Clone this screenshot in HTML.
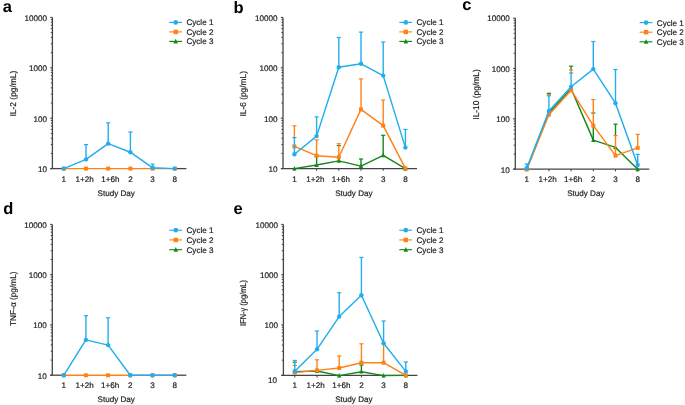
<!DOCTYPE html>
<html><head><meta charset="utf-8"><style>
html,body{margin:0;padding:0;background:#fff;}
svg{display:block;text-rendering:geometricPrecision;will-change:transform;}
.t{font-family:"Liberation Sans",sans-serif;font-size:8.1px;fill:#1e1e1e;stroke:#1e1e1e;stroke-width:0.2px;}
.y{font-family:"Liberation Sans",sans-serif;font-size:8.5px;fill:#1e1e1e;stroke:#1e1e1e;stroke-width:0.2px;}
.L{font-family:"Liberation Sans",sans-serif;font-size:16.5px;font-weight:bold;fill:#000;}
</style></head><body>
<svg width="685" height="405" viewBox="0 0 685 405">
<rect width="685" height="405" fill="#fff"/>
<line x1="52.4" y1="17.4" x2="52.4" y2="168.6" stroke="#444" stroke-width="1.3"/>
<line x1="50.4" y1="168.6" x2="63.8" y2="168.6" stroke="#444" stroke-width="1.3"/>
<line x1="174.8" y1="168.6" x2="186.4" y2="168.6" stroke="#444" stroke-width="1.3"/>
<line x1="50.2" y1="168.6" x2="52.4" y2="168.6" stroke="#444" stroke-width="1.1"/>
<line x1="50.8" y1="153.43" x2="52.4" y2="153.43" stroke="#444" stroke-width="1.0"/>
<line x1="50.8" y1="144.55" x2="52.4" y2="144.55" stroke="#444" stroke-width="1.0"/>
<line x1="50.8" y1="138.26" x2="52.4" y2="138.26" stroke="#444" stroke-width="1.0"/>
<line x1="50.8" y1="133.37" x2="52.4" y2="133.37" stroke="#444" stroke-width="1.0"/>
<line x1="50.8" y1="129.38" x2="52.4" y2="129.38" stroke="#444" stroke-width="1.0"/>
<line x1="50.8" y1="126.01" x2="52.4" y2="126.01" stroke="#444" stroke-width="1.0"/>
<line x1="50.8" y1="123.08" x2="52.4" y2="123.08" stroke="#444" stroke-width="1.0"/>
<line x1="50.8" y1="120.51" x2="52.4" y2="120.51" stroke="#444" stroke-width="1.0"/>
<line x1="50.2" y1="118.2" x2="52.4" y2="118.2" stroke="#444" stroke-width="1.1"/>
<line x1="50.8" y1="103.03" x2="52.4" y2="103.03" stroke="#444" stroke-width="1.0"/>
<line x1="50.8" y1="94.15" x2="52.4" y2="94.15" stroke="#444" stroke-width="1.0"/>
<line x1="50.8" y1="87.86" x2="52.4" y2="87.86" stroke="#444" stroke-width="1.0"/>
<line x1="50.8" y1="82.97" x2="52.4" y2="82.97" stroke="#444" stroke-width="1.0"/>
<line x1="50.8" y1="78.98" x2="52.4" y2="78.98" stroke="#444" stroke-width="1.0"/>
<line x1="50.8" y1="75.61" x2="52.4" y2="75.61" stroke="#444" stroke-width="1.0"/>
<line x1="50.8" y1="72.68" x2="52.4" y2="72.68" stroke="#444" stroke-width="1.0"/>
<line x1="50.8" y1="70.11" x2="52.4" y2="70.11" stroke="#444" stroke-width="1.0"/>
<line x1="50.2" y1="67.8" x2="52.4" y2="67.8" stroke="#444" stroke-width="1.1"/>
<line x1="50.8" y1="52.63" x2="52.4" y2="52.63" stroke="#444" stroke-width="1.0"/>
<line x1="50.8" y1="43.75" x2="52.4" y2="43.75" stroke="#444" stroke-width="1.0"/>
<line x1="50.8" y1="37.46" x2="52.4" y2="37.46" stroke="#444" stroke-width="1.0"/>
<line x1="50.8" y1="32.57" x2="52.4" y2="32.57" stroke="#444" stroke-width="1.0"/>
<line x1="50.8" y1="28.58" x2="52.4" y2="28.58" stroke="#444" stroke-width="1.0"/>
<line x1="50.8" y1="25.21" x2="52.4" y2="25.21" stroke="#444" stroke-width="1.0"/>
<line x1="50.8" y1="22.28" x2="52.4" y2="22.28" stroke="#444" stroke-width="1.0"/>
<line x1="50.8" y1="19.71" x2="52.4" y2="19.71" stroke="#444" stroke-width="1.0"/>
<line x1="50.2" y1="17.4" x2="52.4" y2="17.4" stroke="#444" stroke-width="1.1"/>
<text x="46.9" y="171.9" text-anchor="end" class="t">10</text>
<text x="46.9" y="121.5" text-anchor="end" class="t">100</text>
<text x="46.9" y="71.1" text-anchor="end" class="t">1000</text>
<text x="46.9" y="20.7" text-anchor="end" class="t">10000</text>
<text x="63.8" y="181.5" text-anchor="middle" class="t">1</text>
<text x="84.7" y="181.5" text-anchor="middle" class="t">1+2h</text>
<text x="110.3" y="181.5" text-anchor="middle" class="t">1+6h</text>
<text x="130.4" y="181.5" text-anchor="middle" class="t">2</text>
<text x="152.6" y="181.5" text-anchor="middle" class="t">3</text>
<text x="174.8" y="181.5" text-anchor="middle" class="t">8</text>
<text x="116.2" y="195.5" text-anchor="middle" class="t">Study Day</text>
<text transform="translate(15.6,93.6) rotate(-90)" text-anchor="middle" class="y" textLength="45.8" lengthAdjust="spacingAndGlyphs">IL-2 (pg/mL)</text>
<text x="2.7" y="11.7" class="L">a</text>
<polyline points="63.8,168.6 86,168.6 108.2,168.6 130.4,168.6 152.6,168.6 174.8,168.6" fill="none" stroke="#ff8216" stroke-width="1.45" stroke-linejoin="round"/>
<rect x="61.8" y="166.6" width="4" height="4" fill="#ff8216"/>
<rect x="84" y="166.6" width="4" height="4" fill="#ff8216"/>
<rect x="106.2" y="166.6" width="4" height="4" fill="#ff8216"/>
<rect x="128.4" y="166.6" width="4" height="4" fill="#ff8216"/>
<rect x="150.6" y="166.6" width="4" height="4" fill="#ff8216"/>
<rect x="172.8" y="166.6" width="4" height="4" fill="#ff8216"/>
<line x1="86" y1="144.6" x2="86" y2="159.4" stroke="#22aeee" stroke-width="1.4"/>
<line x1="83.9" y1="144.6" x2="88.1" y2="144.6" stroke="#22aeee" stroke-width="1.2"/>
<line x1="108.2" y1="122.8" x2="108.2" y2="143.6" stroke="#22aeee" stroke-width="1.4"/>
<line x1="106.1" y1="122.8" x2="110.3" y2="122.8" stroke="#22aeee" stroke-width="1.2"/>
<line x1="130.4" y1="132" x2="130.4" y2="152.2" stroke="#22aeee" stroke-width="1.4"/>
<line x1="128.3" y1="132" x2="132.5" y2="132" stroke="#22aeee" stroke-width="1.2"/>
<line x1="152.6" y1="164.2" x2="152.6" y2="167.8" stroke="#22aeee" stroke-width="1.4"/>
<line x1="150.5" y1="164.2" x2="154.7" y2="164.2" stroke="#22aeee" stroke-width="1.2"/>
<polyline points="63.8,168.6 86,159.4 108.2,143.6 130.4,152.2 152.6,167.8 174.8,168.6" fill="none" stroke="#22aeee" stroke-width="1.45" stroke-linejoin="round"/>
<circle cx="63.8" cy="168.6" r="2.2" fill="#22aeee"/>
<circle cx="86" cy="159.4" r="2.2" fill="#22aeee"/>
<circle cx="108.2" cy="143.6" r="2.2" fill="#22aeee"/>
<circle cx="130.4" cy="152.2" r="2.2" fill="#22aeee"/>
<circle cx="152.6" cy="167.8" r="2.2" fill="#22aeee"/>
<circle cx="174.8" cy="168.6" r="2.2" fill="#22aeee"/>
<line x1="169.2" y1="22.4" x2="182" y2="22.4" stroke="#22aeee" stroke-width="1.15"/>
<circle cx="175.7" cy="22.4" r="2.35" fill="#22aeee"/>
<text x="186.4" y="25.3" class="t">Cycle 1</text>
<line x1="169.2" y1="31.9" x2="182" y2="31.9" stroke="#ff8216" stroke-width="1.15"/>
<rect x="173.5" y="29.7" width="4.4" height="4.4" fill="#ff8216"/>
<text x="186.4" y="34.8" class="t">Cycle 2</text>
<line x1="169.2" y1="41.4" x2="182" y2="41.4" stroke="#15881c" stroke-width="1.15"/>
<polygon points="175.7,38.77 173.39,43.39 178.01,43.39" fill="#15881c"/>
<text x="186.4" y="44.3" class="t">Cycle 3</text>
<line x1="283" y1="17.4" x2="283" y2="168.6" stroke="#444" stroke-width="1.3"/>
<line x1="281" y1="168.6" x2="417" y2="168.6" stroke="#444" stroke-width="1.3"/>
<line x1="280.8" y1="168.6" x2="283" y2="168.6" stroke="#444" stroke-width="1.1"/>
<line x1="281.4" y1="153.43" x2="283" y2="153.43" stroke="#444" stroke-width="1.0"/>
<line x1="281.4" y1="144.55" x2="283" y2="144.55" stroke="#444" stroke-width="1.0"/>
<line x1="281.4" y1="138.26" x2="283" y2="138.26" stroke="#444" stroke-width="1.0"/>
<line x1="281.4" y1="133.37" x2="283" y2="133.37" stroke="#444" stroke-width="1.0"/>
<line x1="281.4" y1="129.38" x2="283" y2="129.38" stroke="#444" stroke-width="1.0"/>
<line x1="281.4" y1="126.01" x2="283" y2="126.01" stroke="#444" stroke-width="1.0"/>
<line x1="281.4" y1="123.08" x2="283" y2="123.08" stroke="#444" stroke-width="1.0"/>
<line x1="281.4" y1="120.51" x2="283" y2="120.51" stroke="#444" stroke-width="1.0"/>
<line x1="280.8" y1="118.2" x2="283" y2="118.2" stroke="#444" stroke-width="1.1"/>
<line x1="281.4" y1="103.03" x2="283" y2="103.03" stroke="#444" stroke-width="1.0"/>
<line x1="281.4" y1="94.15" x2="283" y2="94.15" stroke="#444" stroke-width="1.0"/>
<line x1="281.4" y1="87.86" x2="283" y2="87.86" stroke="#444" stroke-width="1.0"/>
<line x1="281.4" y1="82.97" x2="283" y2="82.97" stroke="#444" stroke-width="1.0"/>
<line x1="281.4" y1="78.98" x2="283" y2="78.98" stroke="#444" stroke-width="1.0"/>
<line x1="281.4" y1="75.61" x2="283" y2="75.61" stroke="#444" stroke-width="1.0"/>
<line x1="281.4" y1="72.68" x2="283" y2="72.68" stroke="#444" stroke-width="1.0"/>
<line x1="281.4" y1="70.11" x2="283" y2="70.11" stroke="#444" stroke-width="1.0"/>
<line x1="280.8" y1="67.8" x2="283" y2="67.8" stroke="#444" stroke-width="1.1"/>
<line x1="281.4" y1="52.63" x2="283" y2="52.63" stroke="#444" stroke-width="1.0"/>
<line x1="281.4" y1="43.75" x2="283" y2="43.75" stroke="#444" stroke-width="1.0"/>
<line x1="281.4" y1="37.46" x2="283" y2="37.46" stroke="#444" stroke-width="1.0"/>
<line x1="281.4" y1="32.57" x2="283" y2="32.57" stroke="#444" stroke-width="1.0"/>
<line x1="281.4" y1="28.58" x2="283" y2="28.58" stroke="#444" stroke-width="1.0"/>
<line x1="281.4" y1="25.21" x2="283" y2="25.21" stroke="#444" stroke-width="1.0"/>
<line x1="281.4" y1="22.28" x2="283" y2="22.28" stroke="#444" stroke-width="1.0"/>
<line x1="281.4" y1="19.71" x2="283" y2="19.71" stroke="#444" stroke-width="1.0"/>
<line x1="280.8" y1="17.4" x2="283" y2="17.4" stroke="#444" stroke-width="1.1"/>
<line x1="294.4" y1="168.6" x2="294.4" y2="170.8" stroke="#444" stroke-width="1"/>
<line x1="316.6" y1="168.6" x2="316.6" y2="170.8" stroke="#444" stroke-width="1"/>
<line x1="338.8" y1="168.6" x2="338.8" y2="170.8" stroke="#444" stroke-width="1"/>
<line x1="361" y1="168.6" x2="361" y2="170.8" stroke="#444" stroke-width="1"/>
<line x1="383.2" y1="168.6" x2="383.2" y2="170.8" stroke="#444" stroke-width="1"/>
<line x1="405.4" y1="168.6" x2="405.4" y2="170.8" stroke="#444" stroke-width="1"/>
<text x="277.5" y="171.9" text-anchor="end" class="t">10</text>
<text x="277.5" y="121.5" text-anchor="end" class="t">100</text>
<text x="277.5" y="71.1" text-anchor="end" class="t">1000</text>
<text x="277.5" y="20.7" text-anchor="end" class="t">10000</text>
<text x="294.4" y="181.5" text-anchor="middle" class="t">1</text>
<text x="315.3" y="181.5" text-anchor="middle" class="t">1+2h</text>
<text x="340.9" y="181.5" text-anchor="middle" class="t">1+6h</text>
<text x="361" y="181.5" text-anchor="middle" class="t">2</text>
<text x="383.2" y="181.5" text-anchor="middle" class="t">3</text>
<text x="405.4" y="181.5" text-anchor="middle" class="t">8</text>
<text x="353.9" y="195.5" text-anchor="middle" class="t">Study Day</text>
<text transform="translate(245.6,93.8) rotate(-90)" text-anchor="middle" class="y" textLength="45.4" lengthAdjust="spacingAndGlyphs">IL-6 (pg/mL)</text>
<text x="233.6" y="13.4" class="L">b</text>
<line x1="316.6" y1="156.5" x2="316.6" y2="165" stroke="#15881c" stroke-width="1.4"/>
<line x1="314.5" y1="156.5" x2="318.7" y2="156.5" stroke="#15881c" stroke-width="1.2"/>
<line x1="338.8" y1="157.2" x2="338.8" y2="160.9" stroke="#15881c" stroke-width="1.4"/>
<line x1="336.7" y1="145.6" x2="340.9" y2="145.6" stroke="#15881c" stroke-width="1.2"/>
<line x1="361" y1="159" x2="361" y2="166.1" stroke="#15881c" stroke-width="1.4"/>
<line x1="358.9" y1="159" x2="363.1" y2="159" stroke="#15881c" stroke-width="1.2"/>
<line x1="383.2" y1="135.3" x2="383.2" y2="155.3" stroke="#15881c" stroke-width="1.4"/>
<line x1="381.1" y1="135.3" x2="385.3" y2="135.3" stroke="#15881c" stroke-width="1.2"/>
<polyline points="294.4,168.6 316.6,165 338.8,160.9 361,166.1 383.2,155.3 405.4,168.6" fill="none" stroke="#15881c" stroke-width="1.45" stroke-linejoin="round"/>
<polygon points="294.4,166.1 292.2,170.5 296.6,170.5" fill="#15881c"/>
<polygon points="316.6,162.5 314.4,166.9 318.8,166.9" fill="#15881c"/>
<polygon points="338.8,158.4 336.6,162.8 341,162.8" fill="#15881c"/>
<polygon points="361,163.6 358.8,168 363.2,168" fill="#15881c"/>
<polygon points="383.2,152.8 381,157.2 385.4,157.2" fill="#15881c"/>
<polygon points="405.4,166.1 403.2,170.5 407.6,170.5" fill="#15881c"/>
<line x1="294.4" y1="125.8" x2="294.4" y2="137.6" stroke="#ff8216" stroke-width="1.4"/>
<line x1="292.3" y1="125.8" x2="296.5" y2="125.8" stroke="#ff8216" stroke-width="1.2"/>
<line x1="316.6" y1="139.9" x2="316.6" y2="155.7" stroke="#ff8216" stroke-width="1.4"/>
<line x1="314.5" y1="139.9" x2="318.7" y2="139.9" stroke="#ff8216" stroke-width="1.2"/>
<line x1="338.8" y1="143.7" x2="338.8" y2="157.2" stroke="#ff8216" stroke-width="1.4"/>
<line x1="336.7" y1="143.7" x2="340.9" y2="143.7" stroke="#ff8216" stroke-width="1.2"/>
<line x1="361" y1="78.9" x2="361" y2="109.4" stroke="#ff8216" stroke-width="1.4"/>
<line x1="358.9" y1="78.9" x2="363.1" y2="78.9" stroke="#ff8216" stroke-width="1.2"/>
<line x1="383.2" y1="100" x2="383.2" y2="125.7" stroke="#ff8216" stroke-width="1.4"/>
<line x1="381.1" y1="100" x2="385.3" y2="100" stroke="#ff8216" stroke-width="1.2"/>
<polyline points="294.4,146.4 316.6,155.7 338.8,157.2 361,109.4 383.2,125.7 405.4,168.4" fill="none" stroke="#ff8216" stroke-width="1.45" stroke-linejoin="round"/>
<rect x="292.4" y="144.4" width="4" height="4" fill="#ff8216"/>
<rect x="314.6" y="153.7" width="4" height="4" fill="#ff8216"/>
<rect x="336.8" y="155.2" width="4" height="4" fill="#ff8216"/>
<rect x="359" y="107.4" width="4" height="4" fill="#ff8216"/>
<rect x="381.2" y="123.7" width="4" height="4" fill="#ff8216"/>
<rect x="403.4" y="166.4" width="4" height="4" fill="#ff8216"/>
<line x1="294.4" y1="137.6" x2="294.4" y2="154.3" stroke="#22aeee" stroke-width="1.4"/>
<line x1="292.3" y1="137.6" x2="296.5" y2="137.6" stroke="#22aeee" stroke-width="1.2"/>
<line x1="316.6" y1="116.9" x2="316.6" y2="136.1" stroke="#22aeee" stroke-width="1.4"/>
<line x1="314.5" y1="116.9" x2="318.7" y2="116.9" stroke="#22aeee" stroke-width="1.2"/>
<line x1="338.8" y1="37.5" x2="338.8" y2="67.2" stroke="#22aeee" stroke-width="1.4"/>
<line x1="336.7" y1="37.5" x2="340.9" y2="37.5" stroke="#22aeee" stroke-width="1.2"/>
<line x1="361" y1="32.1" x2="361" y2="63.8" stroke="#22aeee" stroke-width="1.4"/>
<line x1="358.9" y1="32.1" x2="363.1" y2="32.1" stroke="#22aeee" stroke-width="1.2"/>
<line x1="383.2" y1="42" x2="383.2" y2="75.6" stroke="#22aeee" stroke-width="1.4"/>
<line x1="381.1" y1="42" x2="385.3" y2="42" stroke="#22aeee" stroke-width="1.2"/>
<line x1="405.4" y1="129.4" x2="405.4" y2="147.6" stroke="#22aeee" stroke-width="1.4"/>
<line x1="403.3" y1="129.4" x2="407.5" y2="129.4" stroke="#22aeee" stroke-width="1.2"/>
<polyline points="294.4,154.3 316.6,136.1 338.8,67.2 361,63.8 383.2,75.6 405.4,147.6" fill="none" stroke="#22aeee" stroke-width="1.45" stroke-linejoin="round"/>
<circle cx="294.4" cy="154.3" r="2.2" fill="#22aeee"/>
<circle cx="316.6" cy="136.1" r="2.2" fill="#22aeee"/>
<circle cx="338.8" cy="67.2" r="2.2" fill="#22aeee"/>
<circle cx="361" cy="63.8" r="2.2" fill="#22aeee"/>
<circle cx="383.2" cy="75.6" r="2.2" fill="#22aeee"/>
<circle cx="405.4" cy="147.6" r="2.2" fill="#22aeee"/>
<line x1="399.3" y1="22.4" x2="412.1" y2="22.4" stroke="#22aeee" stroke-width="1.15"/>
<circle cx="405.8" cy="22.4" r="2.35" fill="#22aeee"/>
<text x="416.5" y="25.3" class="t">Cycle 1</text>
<line x1="399.3" y1="31.9" x2="412.1" y2="31.9" stroke="#ff8216" stroke-width="1.15"/>
<rect x="403.6" y="29.7" width="4.4" height="4.4" fill="#ff8216"/>
<text x="416.5" y="34.8" class="t">Cycle 2</text>
<line x1="399.3" y1="41.4" x2="412.1" y2="41.4" stroke="#15881c" stroke-width="1.15"/>
<polygon points="405.8,38.77 403.49,43.39 408.11,43.39" fill="#15881c"/>
<text x="416.5" y="44.3" class="t">Cycle 3</text>
<line x1="515.3" y1="18.1" x2="515.3" y2="169.2" stroke="#444" stroke-width="1.3"/>
<line x1="513.3" y1="169.2" x2="649.3" y2="169.2" stroke="#444" stroke-width="1.3"/>
<line x1="513.1" y1="169.2" x2="515.3" y2="169.2" stroke="#444" stroke-width="1.1"/>
<line x1="513.7" y1="154.04" x2="515.3" y2="154.04" stroke="#444" stroke-width="1.0"/>
<line x1="513.7" y1="145.17" x2="515.3" y2="145.17" stroke="#444" stroke-width="1.0"/>
<line x1="513.7" y1="138.88" x2="515.3" y2="138.88" stroke="#444" stroke-width="1.0"/>
<line x1="513.7" y1="134" x2="515.3" y2="134" stroke="#444" stroke-width="1.0"/>
<line x1="513.7" y1="130.01" x2="515.3" y2="130.01" stroke="#444" stroke-width="1.0"/>
<line x1="513.7" y1="126.64" x2="515.3" y2="126.64" stroke="#444" stroke-width="1.0"/>
<line x1="513.7" y1="123.71" x2="515.3" y2="123.71" stroke="#444" stroke-width="1.0"/>
<line x1="513.7" y1="121.14" x2="515.3" y2="121.14" stroke="#444" stroke-width="1.0"/>
<line x1="513.1" y1="118.83" x2="515.3" y2="118.83" stroke="#444" stroke-width="1.1"/>
<line x1="513.7" y1="103.67" x2="515.3" y2="103.67" stroke="#444" stroke-width="1.0"/>
<line x1="513.7" y1="94.8" x2="515.3" y2="94.8" stroke="#444" stroke-width="1.0"/>
<line x1="513.7" y1="88.51" x2="515.3" y2="88.51" stroke="#444" stroke-width="1.0"/>
<line x1="513.7" y1="83.63" x2="515.3" y2="83.63" stroke="#444" stroke-width="1.0"/>
<line x1="513.7" y1="79.64" x2="515.3" y2="79.64" stroke="#444" stroke-width="1.0"/>
<line x1="513.7" y1="76.27" x2="515.3" y2="76.27" stroke="#444" stroke-width="1.0"/>
<line x1="513.7" y1="73.35" x2="515.3" y2="73.35" stroke="#444" stroke-width="1.0"/>
<line x1="513.7" y1="70.77" x2="515.3" y2="70.77" stroke="#444" stroke-width="1.0"/>
<line x1="513.1" y1="68.47" x2="515.3" y2="68.47" stroke="#444" stroke-width="1.1"/>
<line x1="513.7" y1="53.3" x2="515.3" y2="53.3" stroke="#444" stroke-width="1.0"/>
<line x1="513.7" y1="44.44" x2="515.3" y2="44.44" stroke="#444" stroke-width="1.0"/>
<line x1="513.7" y1="38.14" x2="515.3" y2="38.14" stroke="#444" stroke-width="1.0"/>
<line x1="513.7" y1="33.26" x2="515.3" y2="33.26" stroke="#444" stroke-width="1.0"/>
<line x1="513.7" y1="29.27" x2="515.3" y2="29.27" stroke="#444" stroke-width="1.0"/>
<line x1="513.7" y1="25.9" x2="515.3" y2="25.9" stroke="#444" stroke-width="1.0"/>
<line x1="513.7" y1="22.98" x2="515.3" y2="22.98" stroke="#444" stroke-width="1.0"/>
<line x1="513.7" y1="20.4" x2="515.3" y2="20.4" stroke="#444" stroke-width="1.0"/>
<line x1="513.1" y1="18.1" x2="515.3" y2="18.1" stroke="#444" stroke-width="1.1"/>
<line x1="526.7" y1="169.2" x2="526.7" y2="171.4" stroke="#444" stroke-width="1"/>
<line x1="548.9" y1="169.2" x2="548.9" y2="171.4" stroke="#444" stroke-width="1"/>
<line x1="571.1" y1="169.2" x2="571.1" y2="171.4" stroke="#444" stroke-width="1"/>
<line x1="593.3" y1="169.2" x2="593.3" y2="171.4" stroke="#444" stroke-width="1"/>
<line x1="615.5" y1="169.2" x2="615.5" y2="171.4" stroke="#444" stroke-width="1"/>
<line x1="637.7" y1="169.2" x2="637.7" y2="171.4" stroke="#444" stroke-width="1"/>
<text x="509.8" y="172.5" text-anchor="end" class="t">10</text>
<text x="509.8" y="122.13" text-anchor="end" class="t">100</text>
<text x="509.8" y="71.77" text-anchor="end" class="t">1000</text>
<text x="509.8" y="21.4" text-anchor="end" class="t">10000</text>
<text x="526.7" y="182.1" text-anchor="middle" class="t">1</text>
<text x="547.6" y="182.1" text-anchor="middle" class="t">1+2h</text>
<text x="573.2" y="182.1" text-anchor="middle" class="t">1+6h</text>
<text x="593.3" y="182.1" text-anchor="middle" class="t">2</text>
<text x="615.5" y="182.1" text-anchor="middle" class="t">3</text>
<text x="637.7" y="182.1" text-anchor="middle" class="t">8</text>
<text x="585.8" y="196.1" text-anchor="middle" class="t">Study Day</text>
<text transform="translate(479,94.45) rotate(-90)" text-anchor="middle" class="y" textLength="50.5" lengthAdjust="spacingAndGlyphs">IL-10 (pg/mL)</text>
<text x="462.2" y="10.3" class="L">c</text>
<line x1="548.9" y1="93.3" x2="548.9" y2="94.6" stroke="#15881c" stroke-width="1.4"/>
<line x1="546.8" y1="93.3" x2="551" y2="93.3" stroke="#15881c" stroke-width="1.2"/>
<line x1="571.1" y1="66.2" x2="571.1" y2="70.1" stroke="#15881c" stroke-width="1.4"/>
<line x1="569" y1="66.2" x2="573.2" y2="66.2" stroke="#15881c" stroke-width="1.2"/>
<line x1="593.3" y1="125.6" x2="593.3" y2="140.1" stroke="#15881c" stroke-width="1.4"/>
<line x1="591.2" y1="113" x2="595.4" y2="113" stroke="#15881c" stroke-width="1.2"/>
<line x1="615.5" y1="124.2" x2="615.5" y2="135.6" stroke="#15881c" stroke-width="1.4"/>
<line x1="613.4" y1="124.2" x2="617.6" y2="124.2" stroke="#15881c" stroke-width="1.2"/>
<polyline points="526.7,169.2 548.9,112.8 571.1,88.8 593.3,140.1 615.5,147.4 637.7,169.3" fill="none" stroke="#15881c" stroke-width="1.45" stroke-linejoin="round"/>
<polygon points="526.7,166.7 524.5,171.1 528.9,171.1" fill="#15881c"/>
<polygon points="548.9,110.3 546.7,114.7 551.1,114.7" fill="#15881c"/>
<polygon points="571.1,86.3 568.9,90.7 573.3,90.7" fill="#15881c"/>
<polygon points="593.3,137.6 591.1,142 595.5,142" fill="#15881c"/>
<polygon points="615.5,144.9 613.3,149.3 617.7,149.3" fill="#15881c"/>
<polygon points="637.7,166.8 635.5,171.2 639.9,171.2" fill="#15881c"/>
<line x1="548.9" y1="94.6" x2="548.9" y2="95.8" stroke="#ff8216" stroke-width="1.4"/>
<line x1="548.9" y1="110.9" x2="548.9" y2="114.7" stroke="#ff8216" stroke-width="1.4"/>
<line x1="546.8" y1="94.6" x2="551" y2="94.6" stroke="#ff8216" stroke-width="1.2"/>
<line x1="571.1" y1="70.1" x2="571.1" y2="73" stroke="#ff8216" stroke-width="1.4"/>
<line x1="571.1" y1="86.7" x2="571.1" y2="90.2" stroke="#ff8216" stroke-width="1.4"/>
<line x1="569" y1="70.1" x2="573.2" y2="70.1" stroke="#ff8216" stroke-width="1.2"/>
<line x1="593.3" y1="99.6" x2="593.3" y2="125.6" stroke="#ff8216" stroke-width="1.4"/>
<line x1="591.2" y1="99.6" x2="595.4" y2="99.6" stroke="#ff8216" stroke-width="1.2"/>
<line x1="615.5" y1="135.6" x2="615.5" y2="155.6" stroke="#ff8216" stroke-width="1.4"/>
<line x1="613.4" y1="135.6" x2="617.6" y2="135.6" stroke="#ff8216" stroke-width="1.2"/>
<line x1="637.7" y1="134.4" x2="637.7" y2="147.9" stroke="#ff8216" stroke-width="1.4"/>
<line x1="635.6" y1="134.4" x2="639.8" y2="134.4" stroke="#ff8216" stroke-width="1.2"/>
<polyline points="526.7,169.4 548.9,114.7 571.1,90.2 593.3,125.6 615.5,155.6 637.7,147.9" fill="none" stroke="#ff8216" stroke-width="1.45" stroke-linejoin="round"/>
<rect x="524.7" y="167.4" width="4" height="4" fill="#ff8216"/>
<rect x="546.9" y="112.7" width="4" height="4" fill="#ff8216"/>
<rect x="569.1" y="88.2" width="4" height="4" fill="#ff8216"/>
<rect x="591.3" y="123.6" width="4" height="4" fill="#ff8216"/>
<rect x="613.5" y="153.6" width="4" height="4" fill="#ff8216"/>
<rect x="635.7" y="145.9" width="4" height="4" fill="#ff8216"/>
<line x1="526.7" y1="164" x2="526.7" y2="168.3" stroke="#22aeee" stroke-width="1.4"/>
<line x1="524.6" y1="164" x2="528.8" y2="164" stroke="#22aeee" stroke-width="1.2"/>
<line x1="548.9" y1="95.8" x2="548.9" y2="110.9" stroke="#22aeee" stroke-width="1.4"/>
<line x1="546.8" y1="95.8" x2="551" y2="95.8" stroke="#22aeee" stroke-width="1.2"/>
<line x1="571.1" y1="73" x2="571.1" y2="86.7" stroke="#22aeee" stroke-width="1.4"/>
<line x1="569" y1="73" x2="573.2" y2="73" stroke="#22aeee" stroke-width="1.2"/>
<line x1="593.3" y1="41.5" x2="593.3" y2="69.1" stroke="#22aeee" stroke-width="1.4"/>
<line x1="591.2" y1="41.5" x2="595.4" y2="41.5" stroke="#22aeee" stroke-width="1.2"/>
<line x1="615.5" y1="69.5" x2="615.5" y2="103.2" stroke="#22aeee" stroke-width="1.4"/>
<line x1="613.4" y1="69.5" x2="617.6" y2="69.5" stroke="#22aeee" stroke-width="1.2"/>
<line x1="637.7" y1="154.4" x2="637.7" y2="164.9" stroke="#22aeee" stroke-width="1.4"/>
<line x1="635.6" y1="154.4" x2="639.8" y2="154.4" stroke="#22aeee" stroke-width="1.2"/>
<polyline points="526.7,168.3 548.9,110.9 571.1,86.7 593.3,69.1 615.5,103.2 637.7,164.9" fill="none" stroke="#22aeee" stroke-width="1.45" stroke-linejoin="round"/>
<circle cx="526.7" cy="168.3" r="2.2" fill="#22aeee"/>
<circle cx="548.9" cy="110.9" r="2.2" fill="#22aeee"/>
<circle cx="571.1" cy="86.7" r="2.2" fill="#22aeee"/>
<circle cx="593.3" cy="69.1" r="2.2" fill="#22aeee"/>
<circle cx="615.5" cy="103.2" r="2.2" fill="#22aeee"/>
<circle cx="637.7" cy="164.9" r="2.2" fill="#22aeee"/>
<line x1="639.6" y1="22.6" x2="652.4" y2="22.6" stroke="#22aeee" stroke-width="1.15"/>
<circle cx="646.1" cy="22.6" r="2.35" fill="#22aeee"/>
<text x="656.8" y="25.5" class="t">Cycle 1</text>
<line x1="639.6" y1="32.2" x2="652.4" y2="32.2" stroke="#ff8216" stroke-width="1.15"/>
<rect x="643.9" y="30" width="4.4" height="4.4" fill="#ff8216"/>
<text x="656.8" y="35.1" class="t">Cycle 2</text>
<line x1="639.6" y1="41.8" x2="652.4" y2="41.8" stroke="#15881c" stroke-width="1.15"/>
<polygon points="646.1,39.17 643.79,43.79 648.41,43.79" fill="#15881c"/>
<text x="656.8" y="44.7" class="t">Cycle 3</text>
<line x1="52.3" y1="224.4" x2="52.3" y2="375.2" stroke="#444" stroke-width="1.3"/>
<line x1="50.3" y1="375.2" x2="63.7" y2="375.2" stroke="#444" stroke-width="1.3"/>
<line x1="174.7" y1="375.2" x2="186.3" y2="375.2" stroke="#444" stroke-width="1.3"/>
<line x1="50.1" y1="375.2" x2="52.3" y2="375.2" stroke="#444" stroke-width="1.1"/>
<line x1="50.7" y1="360.07" x2="52.3" y2="360.07" stroke="#444" stroke-width="1.0"/>
<line x1="50.7" y1="351.22" x2="52.3" y2="351.22" stroke="#444" stroke-width="1.0"/>
<line x1="50.7" y1="344.94" x2="52.3" y2="344.94" stroke="#444" stroke-width="1.0"/>
<line x1="50.7" y1="340.07" x2="52.3" y2="340.07" stroke="#444" stroke-width="1.0"/>
<line x1="50.7" y1="336.08" x2="52.3" y2="336.08" stroke="#444" stroke-width="1.0"/>
<line x1="50.7" y1="332.72" x2="52.3" y2="332.72" stroke="#444" stroke-width="1.0"/>
<line x1="50.7" y1="329.8" x2="52.3" y2="329.8" stroke="#444" stroke-width="1.0"/>
<line x1="50.7" y1="327.23" x2="52.3" y2="327.23" stroke="#444" stroke-width="1.0"/>
<line x1="50.1" y1="324.93" x2="52.3" y2="324.93" stroke="#444" stroke-width="1.1"/>
<line x1="50.7" y1="309.8" x2="52.3" y2="309.8" stroke="#444" stroke-width="1.0"/>
<line x1="50.7" y1="300.95" x2="52.3" y2="300.95" stroke="#444" stroke-width="1.0"/>
<line x1="50.7" y1="294.67" x2="52.3" y2="294.67" stroke="#444" stroke-width="1.0"/>
<line x1="50.7" y1="289.8" x2="52.3" y2="289.8" stroke="#444" stroke-width="1.0"/>
<line x1="50.7" y1="285.82" x2="52.3" y2="285.82" stroke="#444" stroke-width="1.0"/>
<line x1="50.7" y1="282.45" x2="52.3" y2="282.45" stroke="#444" stroke-width="1.0"/>
<line x1="50.7" y1="279.54" x2="52.3" y2="279.54" stroke="#444" stroke-width="1.0"/>
<line x1="50.7" y1="276.97" x2="52.3" y2="276.97" stroke="#444" stroke-width="1.0"/>
<line x1="50.1" y1="274.67" x2="52.3" y2="274.67" stroke="#444" stroke-width="1.1"/>
<line x1="50.7" y1="259.53" x2="52.3" y2="259.53" stroke="#444" stroke-width="1.0"/>
<line x1="50.7" y1="250.68" x2="52.3" y2="250.68" stroke="#444" stroke-width="1.0"/>
<line x1="50.7" y1="244.4" x2="52.3" y2="244.4" stroke="#444" stroke-width="1.0"/>
<line x1="50.7" y1="239.53" x2="52.3" y2="239.53" stroke="#444" stroke-width="1.0"/>
<line x1="50.7" y1="235.55" x2="52.3" y2="235.55" stroke="#444" stroke-width="1.0"/>
<line x1="50.7" y1="232.19" x2="52.3" y2="232.19" stroke="#444" stroke-width="1.0"/>
<line x1="50.7" y1="229.27" x2="52.3" y2="229.27" stroke="#444" stroke-width="1.0"/>
<line x1="50.7" y1="226.7" x2="52.3" y2="226.7" stroke="#444" stroke-width="1.0"/>
<line x1="50.1" y1="224.4" x2="52.3" y2="224.4" stroke="#444" stroke-width="1.1"/>
<text x="46.8" y="378.5" text-anchor="end" class="t">10</text>
<text x="46.8" y="328.23" text-anchor="end" class="t">100</text>
<text x="46.8" y="277.97" text-anchor="end" class="t">1000</text>
<text x="46.8" y="227.7" text-anchor="end" class="t">10000</text>
<text x="63.7" y="388.1" text-anchor="middle" class="t">1</text>
<text x="84.6" y="388.1" text-anchor="middle" class="t">1+2h</text>
<text x="110.2" y="388.1" text-anchor="middle" class="t">1+6h</text>
<text x="130.3" y="388.1" text-anchor="middle" class="t">2</text>
<text x="152.5" y="388.1" text-anchor="middle" class="t">3</text>
<text x="174.7" y="388.1" text-anchor="middle" class="t">8</text>
<text x="116.2" y="402.1" text-anchor="middle" class="t">Study Day</text>
<text transform="translate(15.9,298.7) rotate(-90)" text-anchor="middle" class="y" textLength="54.5" lengthAdjust="spacingAndGlyphs">TNF-α (pg/mL)</text>
<text x="3.3" y="213.6" class="L">d</text>
<polyline points="63.7,375.3 85.9,375.3 108.1,375.3 130.3,375.3 152.5,375.3 174.7,375.3" fill="none" stroke="#ff8216" stroke-width="1.45" stroke-linejoin="round"/>
<rect x="61.7" y="373.3" width="4" height="4" fill="#ff8216"/>
<rect x="83.9" y="373.3" width="4" height="4" fill="#ff8216"/>
<rect x="106.1" y="373.3" width="4" height="4" fill="#ff8216"/>
<rect x="128.3" y="373.3" width="4" height="4" fill="#ff8216"/>
<rect x="150.5" y="373.3" width="4" height="4" fill="#ff8216"/>
<rect x="172.7" y="373.3" width="4" height="4" fill="#ff8216"/>
<line x1="85.9" y1="315.7" x2="85.9" y2="339.9" stroke="#22aeee" stroke-width="1.4"/>
<line x1="83.8" y1="315.7" x2="88" y2="315.7" stroke="#22aeee" stroke-width="1.2"/>
<line x1="108.1" y1="317.8" x2="108.1" y2="345.1" stroke="#22aeee" stroke-width="1.4"/>
<line x1="106" y1="317.8" x2="110.2" y2="317.8" stroke="#22aeee" stroke-width="1.2"/>
<polyline points="63.7,375.3 85.9,339.9 108.1,345.1 130.3,375.3 152.5,375.3 174.7,375.3" fill="none" stroke="#22aeee" stroke-width="1.45" stroke-linejoin="round"/>
<circle cx="63.7" cy="375.3" r="2.2" fill="#22aeee"/>
<circle cx="85.9" cy="339.9" r="2.2" fill="#22aeee"/>
<circle cx="108.1" cy="345.1" r="2.2" fill="#22aeee"/>
<circle cx="130.3" cy="375.3" r="2.2" fill="#22aeee"/>
<circle cx="152.5" cy="375.3" r="2.2" fill="#22aeee"/>
<circle cx="174.7" cy="375.3" r="2.2" fill="#22aeee"/>
<line x1="169.3" y1="230.2" x2="182.1" y2="230.2" stroke="#22aeee" stroke-width="1.15"/>
<circle cx="175.8" cy="230.2" r="2.35" fill="#22aeee"/>
<text x="186.5" y="233.1" class="t">Cycle 1</text>
<line x1="169.3" y1="239.95" x2="182.1" y2="239.95" stroke="#ff8216" stroke-width="1.15"/>
<rect x="173.6" y="237.75" width="4.4" height="4.4" fill="#ff8216"/>
<text x="186.5" y="242.85" class="t">Cycle 2</text>
<line x1="169.3" y1="249.7" x2="182.1" y2="249.7" stroke="#15881c" stroke-width="1.15"/>
<polygon points="175.8,247.07 173.49,251.69 178.11,251.69" fill="#15881c"/>
<text x="186.5" y="252.6" class="t">Cycle 3</text>
<line x1="283.4" y1="224.4" x2="283.4" y2="375.3" stroke="#444" stroke-width="1.3"/>
<line x1="281.4" y1="375.3" x2="417.4" y2="375.3" stroke="#444" stroke-width="1.3"/>
<line x1="281.2" y1="375.3" x2="283.4" y2="375.3" stroke="#444" stroke-width="1.1"/>
<line x1="281.8" y1="360.16" x2="283.4" y2="360.16" stroke="#444" stroke-width="1.0"/>
<line x1="281.8" y1="351.3" x2="283.4" y2="351.3" stroke="#444" stroke-width="1.0"/>
<line x1="281.8" y1="345.02" x2="283.4" y2="345.02" stroke="#444" stroke-width="1.0"/>
<line x1="281.8" y1="340.14" x2="283.4" y2="340.14" stroke="#444" stroke-width="1.0"/>
<line x1="281.8" y1="336.16" x2="283.4" y2="336.16" stroke="#444" stroke-width="1.0"/>
<line x1="281.8" y1="332.79" x2="283.4" y2="332.79" stroke="#444" stroke-width="1.0"/>
<line x1="281.8" y1="329.87" x2="283.4" y2="329.87" stroke="#444" stroke-width="1.0"/>
<line x1="281.8" y1="327.3" x2="283.4" y2="327.3" stroke="#444" stroke-width="1.0"/>
<line x1="281.2" y1="325" x2="283.4" y2="325" stroke="#444" stroke-width="1.1"/>
<line x1="281.8" y1="309.86" x2="283.4" y2="309.86" stroke="#444" stroke-width="1.0"/>
<line x1="281.8" y1="301" x2="283.4" y2="301" stroke="#444" stroke-width="1.0"/>
<line x1="281.8" y1="294.72" x2="283.4" y2="294.72" stroke="#444" stroke-width="1.0"/>
<line x1="281.8" y1="289.84" x2="283.4" y2="289.84" stroke="#444" stroke-width="1.0"/>
<line x1="281.8" y1="285.86" x2="283.4" y2="285.86" stroke="#444" stroke-width="1.0"/>
<line x1="281.8" y1="282.49" x2="283.4" y2="282.49" stroke="#444" stroke-width="1.0"/>
<line x1="281.8" y1="279.57" x2="283.4" y2="279.57" stroke="#444" stroke-width="1.0"/>
<line x1="281.8" y1="277" x2="283.4" y2="277" stroke="#444" stroke-width="1.0"/>
<line x1="281.2" y1="274.7" x2="283.4" y2="274.7" stroke="#444" stroke-width="1.1"/>
<line x1="281.8" y1="259.56" x2="283.4" y2="259.56" stroke="#444" stroke-width="1.0"/>
<line x1="281.8" y1="250.7" x2="283.4" y2="250.7" stroke="#444" stroke-width="1.0"/>
<line x1="281.8" y1="244.42" x2="283.4" y2="244.42" stroke="#444" stroke-width="1.0"/>
<line x1="281.8" y1="239.54" x2="283.4" y2="239.54" stroke="#444" stroke-width="1.0"/>
<line x1="281.8" y1="235.56" x2="283.4" y2="235.56" stroke="#444" stroke-width="1.0"/>
<line x1="281.8" y1="232.19" x2="283.4" y2="232.19" stroke="#444" stroke-width="1.0"/>
<line x1="281.8" y1="229.27" x2="283.4" y2="229.27" stroke="#444" stroke-width="1.0"/>
<line x1="281.8" y1="226.7" x2="283.4" y2="226.7" stroke="#444" stroke-width="1.0"/>
<line x1="281.2" y1="224.4" x2="283.4" y2="224.4" stroke="#444" stroke-width="1.1"/>
<line x1="294.8" y1="375.3" x2="294.8" y2="377.5" stroke="#444" stroke-width="1"/>
<line x1="317" y1="375.3" x2="317" y2="377.5" stroke="#444" stroke-width="1"/>
<line x1="339.2" y1="375.3" x2="339.2" y2="377.5" stroke="#444" stroke-width="1"/>
<line x1="361.4" y1="375.3" x2="361.4" y2="377.5" stroke="#444" stroke-width="1"/>
<line x1="383.6" y1="375.3" x2="383.6" y2="377.5" stroke="#444" stroke-width="1"/>
<line x1="405.8" y1="375.3" x2="405.8" y2="377.5" stroke="#444" stroke-width="1"/>
<text x="277" y="382.5" text-anchor="end" class="t">10</text>
<text x="277.9" y="328.3" text-anchor="end" class="t">100</text>
<text x="277.9" y="278" text-anchor="end" class="t">1000</text>
<text x="277.9" y="227.7" text-anchor="end" class="t">10000</text>
<text x="294.8" y="388.2" text-anchor="middle" class="t">1</text>
<text x="315.7" y="388.2" text-anchor="middle" class="t">1+2h</text>
<text x="341.3" y="388.2" text-anchor="middle" class="t">1+6h</text>
<text x="361.4" y="388.2" text-anchor="middle" class="t">2</text>
<text x="383.6" y="388.2" text-anchor="middle" class="t">3</text>
<text x="405.8" y="388.2" text-anchor="middle" class="t">8</text>
<text x="353.9" y="402.2" text-anchor="middle" class="t">Study Day</text>
<text transform="translate(245.9,303) rotate(-90)" text-anchor="middle" class="y" textLength="45.8" lengthAdjust="spacingAndGlyphs">IFN-γ (pg/mL)</text>
<text x="233.5" y="214" class="L">e</text>
<line x1="292.7" y1="362.3" x2="296.9" y2="362.3" stroke="#15881c" stroke-width="1.2"/>
<line x1="361.4" y1="365" x2="361.4" y2="371.7" stroke="#15881c" stroke-width="1.4"/>
<line x1="359.3" y1="365" x2="363.5" y2="365" stroke="#15881c" stroke-width="1.2"/>
<polyline points="294.8,371.6 317,371 339.2,375.6 361.4,371.7 383.6,375.6 405.8,375.4" fill="none" stroke="#15881c" stroke-width="1.45" stroke-linejoin="round"/>
<polygon points="294.8,369.1 292.6,373.5 297,373.5" fill="#15881c"/>
<polygon points="317,368.5 314.8,372.9 319.2,372.9" fill="#15881c"/>
<polygon points="339.2,373.1 337,377.5 341.4,377.5" fill="#15881c"/>
<polygon points="361.4,369.2 359.2,373.6 363.6,373.6" fill="#15881c"/>
<polygon points="383.6,373.1 381.4,377.5 385.8,377.5" fill="#15881c"/>
<polygon points="405.8,372.9 403.6,377.3 408,377.3" fill="#15881c"/>
<line x1="294.8" y1="371.2" x2="294.8" y2="372.6" stroke="#ff8216" stroke-width="1.4"/>
<line x1="292.7" y1="365.4" x2="296.9" y2="365.4" stroke="#ff8216" stroke-width="1.2"/>
<line x1="317" y1="359.8" x2="317" y2="370.4" stroke="#ff8216" stroke-width="1.4"/>
<line x1="314.9" y1="359.8" x2="319.1" y2="359.8" stroke="#ff8216" stroke-width="1.2"/>
<line x1="339.2" y1="355.9" x2="339.2" y2="368" stroke="#ff8216" stroke-width="1.4"/>
<line x1="337.1" y1="355.9" x2="341.3" y2="355.9" stroke="#ff8216" stroke-width="1.2"/>
<line x1="361.4" y1="343.8" x2="361.4" y2="362.7" stroke="#ff8216" stroke-width="1.4"/>
<line x1="359.3" y1="343.8" x2="363.5" y2="343.8" stroke="#ff8216" stroke-width="1.2"/>
<line x1="383.6" y1="343.6" x2="383.6" y2="362.7" stroke="#ff8216" stroke-width="1.4"/>
<line x1="381.5" y1="343.6" x2="385.7" y2="343.6" stroke="#ff8216" stroke-width="1.2"/>
<polyline points="294.8,372.6 317,370.4 339.2,368 361.4,362.7 383.6,362.7 405.8,375.4" fill="none" stroke="#ff8216" stroke-width="1.45" stroke-linejoin="round"/>
<rect x="292.8" y="370.6" width="4" height="4" fill="#ff8216"/>
<rect x="315" y="368.4" width="4" height="4" fill="#ff8216"/>
<rect x="337.2" y="366" width="4" height="4" fill="#ff8216"/>
<rect x="359.4" y="360.7" width="4" height="4" fill="#ff8216"/>
<rect x="381.6" y="360.7" width="4" height="4" fill="#ff8216"/>
<rect x="403.8" y="373.4" width="4" height="4" fill="#ff8216"/>
<line x1="294.8" y1="360.4" x2="294.8" y2="371.2" stroke="#22aeee" stroke-width="1.4"/>
<line x1="292.7" y1="360.4" x2="296.9" y2="360.4" stroke="#22aeee" stroke-width="1.2"/>
<line x1="317" y1="331" x2="317" y2="349.3" stroke="#22aeee" stroke-width="1.4"/>
<line x1="314.9" y1="331" x2="319.1" y2="331" stroke="#22aeee" stroke-width="1.2"/>
<line x1="339.2" y1="292.7" x2="339.2" y2="316.6" stroke="#22aeee" stroke-width="1.4"/>
<line x1="337.1" y1="292.7" x2="341.3" y2="292.7" stroke="#22aeee" stroke-width="1.2"/>
<line x1="361.4" y1="257.4" x2="361.4" y2="295.3" stroke="#22aeee" stroke-width="1.4"/>
<line x1="359.3" y1="257.4" x2="363.5" y2="257.4" stroke="#22aeee" stroke-width="1.2"/>
<line x1="383.6" y1="321" x2="383.6" y2="343.2" stroke="#22aeee" stroke-width="1.4"/>
<line x1="381.5" y1="321" x2="385.7" y2="321" stroke="#22aeee" stroke-width="1.2"/>
<line x1="405.8" y1="361.9" x2="405.8" y2="371.4" stroke="#22aeee" stroke-width="1.4"/>
<line x1="403.7" y1="361.9" x2="407.9" y2="361.9" stroke="#22aeee" stroke-width="1.2"/>
<polyline points="294.8,371.2 317,349.3 339.2,316.6 361.4,295.3 383.6,343.2 405.8,371.4" fill="none" stroke="#22aeee" stroke-width="1.45" stroke-linejoin="round"/>
<circle cx="294.8" cy="371.2" r="2.2" fill="#22aeee"/>
<circle cx="317" cy="349.3" r="2.2" fill="#22aeee"/>
<circle cx="339.2" cy="316.6" r="2.2" fill="#22aeee"/>
<circle cx="361.4" cy="295.3" r="2.2" fill="#22aeee"/>
<circle cx="383.6" cy="343.2" r="2.2" fill="#22aeee"/>
<circle cx="405.8" cy="371.4" r="2.2" fill="#22aeee"/>
<line x1="399.3" y1="230.2" x2="412.1" y2="230.2" stroke="#22aeee" stroke-width="1.15"/>
<circle cx="405.8" cy="230.2" r="2.35" fill="#22aeee"/>
<text x="416.5" y="233.1" class="t">Cycle 1</text>
<line x1="399.3" y1="239.95" x2="412.1" y2="239.95" stroke="#ff8216" stroke-width="1.15"/>
<rect x="403.6" y="237.75" width="4.4" height="4.4" fill="#ff8216"/>
<text x="416.5" y="242.85" class="t">Cycle 2</text>
<line x1="399.3" y1="249.7" x2="412.1" y2="249.7" stroke="#15881c" stroke-width="1.15"/>
<polygon points="405.8,247.07 403.49,251.69 408.11,251.69" fill="#15881c"/>
<text x="416.5" y="252.6" class="t">Cycle 3</text>
</svg>
</body></html>
